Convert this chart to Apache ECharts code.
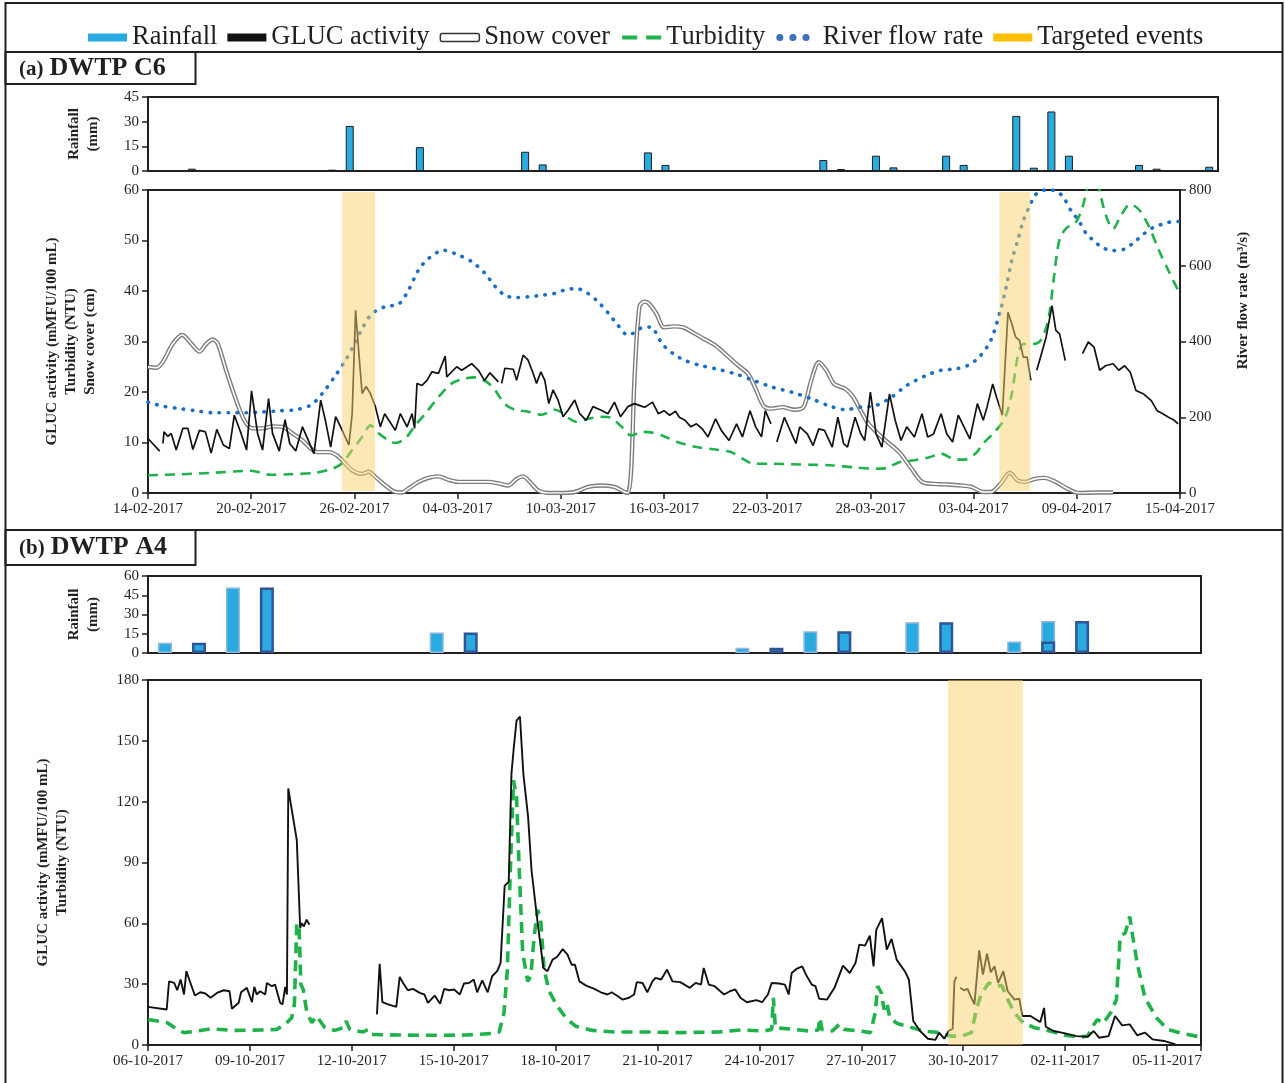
<!DOCTYPE html>
<html>
<head>
<meta charset="utf-8">
<title>GLUC activity, DWTP C6 and A4</title>
<script src="https://cdn.jsdelivr.net/npm/echarts@6/dist/echarts.min.js"></script>
<style>
  html, body { margin: 0; padding: 0; background: #fff; }
  #main { width: 1285px; height: 1083px; }
</style>
</head>
<body>
<div id="main"></div>
<script>
// tick labels (one every 6 days for C6, every 3 days for A4)
var ticksA = ['14-02-2017', '20-02-2017', '26-02-2017', '04-03-2017', '10-03-2017', '16-03-2017',
    '22-03-2017', '28-03-2017', '03-04-2017', '09-04-2017', '15-04-2017'];
var ticksB = ['06-10-2017', '09-10-2017', '12-10-2017', '15-10-2017', '18-10-2017', '21-10-2017',
    '24-10-2017', '27-10-2017', '30-10-2017', '02-11-2017', '05-11-2017'];

// daily rainfall (mm), DWTP C6, from 14-02-2017
var rainA = [0, 0, 1.4, 0, 0, 0, 0, 0, 0, 0, 0.8, 27.4, 0, 0, 0, 14.5, 0, 0, 0, 0,
    0, 11.7, 4, 0, 0, 0, 0, 0, 11.3, 3.7, 0, 0, 0, 0, 0, 0, 0, 0, 6.7, 1.2,
    0.6, 9.3, 2.2, 0, 0, 9.3, 3.7, 0, 0, 33.5, 2, 36.2, 9.3, 0, 0, 0, 3.7, 1.4, 0, 0, 2.6];

// daily rainfall (mm), DWTP A4, from 06-10-2017 (two overlapping bar series)
var rainB1 = [8, 0, 51, 0, 0, 0, 0, 0, 16, 0, 0, 0, 0, 0, 0, 0, 0, 4, 0, 17, 0, 0, 24, 0, 0, 9, 25, 0, 0, 0, 0];
var rainB2 = [0, 8, 0, 51, 0, 0, 0, 0, 0, 16, 0, 0, 0, 0, 0, 0, 0, 0, 4, 0, 17, 0, 0, 24, 0, 0, 9, 25, 0, 0, 0];

// [days since 14-02-2017, value]
var glucA = [[0,10.8],[0.68,8.3],[0.78,'-'],
    [0.87,9.8],[0.93,12.1],[1.16,11.2],[1.35,11.8],[1.64,8.5],[2.03,12.8],[2.32,12.8],[2.61,8.6],[2.99,12.4],[3.34,12.1],[3.67,7.9],
    [4.0,12.6],[4.38,9.5],[4.73,8.8],[5.02,15.4],[5.41,11.8],[5.73,8.5],[6.02,20.2],[6.37,11.8],[6.66,8.5],[7.01,18.7],[7.24,11.8],
    [7.63,8.3],[7.97,14.5],[8.24,9.8],[8.59,8.3],[8.98,13.1],[9.27,10.8],[9.65,7.8],[10.04,18.4],[10.33,14.1],[10.62,9.1],[10.91,15.1],
    [11.2,13.1],[11.68,9.5],[11.87,15.7],[12.07,36.2],[12.26,27.6],[12.45,19.7],[12.68,21.1],[12.93,19.7],[13.22,17.1],[13.51,13.1],
    [13.76,15.7],[14.0,14.4],[14.38,12.4],[14.67,15.7],[15.06,13.1],[15.35,15.7],[15.5,12.8],[15.64,21.7],[15.93,21.3],[16.22,22.3],
    [16.51,24.0],[16.89,23.7],[17.28,27.1],[17.37,23.0],[17.95,25.0],[18.24,24.3],[18.82,25.6],[19.21,24.3],[19.56,22.3],[19.88,23.8],
    [20.37,22.0],[20.46,'-'],
    [20.56,21.7],[20.75,24.7],[21.24,24.5],[21.43,22.3],[21.81,27.3],[22.1,26.3],[22.39,23.7],[22.59,21.7],[22.84,24.0],[23.07,22.3],
    [23.3,17.7],[23.55,20.4],[23.84,18.4],[24.13,15.1],[24.42,16.4],[24.81,18.4],[25.1,15.7],[25.48,14.4],[25.87,17.1],[26.35,16.4],
    [26.74,15.7],[27.12,18.0],[27.47,15.1],[27.9,17.1],[28.28,17.7],[28.76,17.1],[28.9,17.0],[29.33,18.0],[29.67,15.7],[30.0,16.3],
    [30.33,15.4],[30.67,16.2],[30.89,15.0],[31.22,14.4],[31.56,13.1],[31.89,13.7],[32.22,12.7],[32.56,11.1],[33.0,14.7],[33.33,12.4],
    [33.78,10.4],[34.22,13.7],[34.56,11.1],[35.0,16.3],[35.33,13.1],[35.67,11.1],[35.89,16.3],[36.22,13.7],[36.4,'-'],
    [36.56,10.1],[37.0,15.0],[37.33,12.4],[37.67,9.8],[37.89,13.1],[38.33,11.7],[38.67,9.4],[39.0,12.7],[39.33,12.4],[39.78,9.1],
    [40.11,15.0],[40.44,9.8],[40.67,9.1],[41.11,15.0],[41.44,11.7],[41.67,10.4],[42.0,20.0],[42.33,11.7],[42.67,9.1],[43.11,19.6],
    [43.44,14.4],[43.78,10.4],[44.11,13.1],[44.56,11.1],[45.0,15.7],[45.33,11.1],[45.67,11.7],[46.11,15.7],[46.44,11.7],[46.78,10.1],
    [47.11,15.4],[47.44,13.1],[47.78,10.7],[48.22,17.7],[48.56,14.4],[48.78,17.0],[49.11,21.6],[49.33,19.0],[49.67,15.4],[50.0,35.8],
    [50.22,33.5],[50.44,30.9],[50.67,30.2],[50.89,26.9],[51.11,26.9],[51.33,22.3],[51.5,'-'],
    [51.67,24.3],[51.89,26.9],[52.22,30.9],[52.56,37.1],[52.78,32.2],[53.0,31.5],[53.33,26.2],[53.8,'-'],
    [54.33,27.6],[54.67,29.9],[55.0,28.9],[55.33,24.3],[55.67,25.2],[56.11,25.6],[56.44,24.3],[56.78,25.2],[57.11,23.9],[57.44,20.3],
    [57.89,19.6],[58.33,18.3],[58.67,16.3],[59.0,15.7],[59.33,15.0],[59.67,14.4],[59.89,13.7]];

var snowA = [[0,25],[0.48,24.8],[0.87,26],[1.45,29.6],[1.99,31.3],[2.51,29.6],[2.99,28],[3.38,29.5],[3.76,30.4],[4.05,29.6],
    [4.54,24.3],[5.12,18.4],[5.6,14.4],[6.08,12.8],[6.66,12.8],[7.24,13.2],[7.82,13.1],[8.4,11.8],[8.98,10.4],[9.46,8.8],[9.85,8.1],
    [10.52,8.1],[11.0,7.4],[11.39,6.1],[11.87,4.5],[12.45,3.8],[12.84,4.2],[13.22,3.2],[13.8,1.5],[14.38,0.2],[14.77,0.1],[15.15,0.9],
    [15.73,2.2],[16.31,3],[16.89,3.3],[17.47,2.6],[18.05,2.2],[18.82,2.2],[19.79,2.2],[20.37,1.9],[20.95,1.5],[21.43,2.8],[21.81,3.3],
    [22.2,2.2],[22.68,0.5],[23.26,0],[24.03,0],[24.81,0.2],[25.58,1.2],[26.35,1.5],[27.12,1.2],[27.7,0.2],[27.9,0],[28.09,4.5],
    [28.28,22.3],[28.57,36.9],[28.86,37.9],[29.1,37.6],[29.56,35.5],[30.0,32.8],[30.56,33],[31.11,32.8],[31.67,31.8],[32.33,30.5],
    [33.0,29.2],[33.67,27.2],[34.33,25.2],[34.89,23.6],[35.33,20.6],[35.78,17.3],[36.22,16.7],[36.89,17],[37.56,16.5],[38.11,17],
    [38.56,22.3],[39.0,25.9],[39.44,24.3],[39.89,21.6],[40.56,20.6],[41.0,19],[41.44,16.3],[41.89,13.7],[42.78,10.7],[43.67,8.1],
    [44.33,5.1],[45.0,2.2],[45.67,1.8],[46.33,1.7],[47.22,1.5],[47.89,1.2],[48.56,0.2],[49.0,0.2],[49.56,1.8],[50.11,4],[50.56,2.5],
    [51.0,2.2],[51.56,2.8],[52.11,3],[52.78,2.2],[53.44,0.9],[54.11,0],[55.22,0.1],[56.11,0.1]];

var turbA = [[0,3.5],[1.83,3.7],[3.76,4],[5.98,4.4],[7.14,3.6],[8.2,3.7],[9.75,4],[10.71,4.8],[11.29,5.9],[11.87,8.5],[12.45,11.1],
    [12.93,13.4],[13.42,11.8],[14.0,10.4],[14.38,9.9],[14.96,10.8],[15.54,13.4],[16.12,15.7],[16.89,19],[17.66,21.7],[18.44,22.7],
    [19.02,22.9],[19.69,22],[20.17,20.4],[20.75,17.6],[21.33,16.5],[22.1,16.1],[22.88,15.5],[23.65,16.5],[24.03,16],[24.42,14.9],
    [24.9,14.1],[25.58,14.7],[26.35,15.1],[26.93,14.9],[27.51,13.2],[28.09,11.4],[28.76,12.1],[29.22,12],[29.89,11.4],[30.78,10.1],
    [31.89,9.1],[33.0,8.6],[33.89,8.1],[34.67,6.6],[35.22,5.8],[36.33,5.8],[37.44,5.7],[38.56,5.6],[39.67,5.5],[41.0,5.1],[42.33,4.8],
    [43.0,5],[43.67,6.1],[44.56,6.5],[45.44,7.1],[46.11,7.8],[46.78,6.8],[47.44,6.6],[48.11,7.8],[48.56,9.8],[49.11,11.7],[49.78,14.5],
    [50.22,19.6],[50.56,26.9],[50.89,29.5],[51.44,29.5],[51.89,30.2],[52.33,34.1],[52.67,42.7],[53.0,50.3],[53.44,52.6],[53.89,53.3],
    [54.33,56.6],[54.67,61],[54.95,62],[55.22,61],[55.67,55.2],[56.11,52.3],[56.56,54.9],[57.11,57.2],[57.67,55.9],[58.22,52.6],
    [58.78,48],[59.33,44],[59.89,40.1]];

var flowA = [[0,240],[0.87,229],[1.83,223],[2.8,217],[3.76,212],[4.73,212],[5.7,212],[6.66,214],[7.63,217],[8.59,220],[9.46,232],
    [10.14,263],[10.91,311],[11.49,351],[12.07,399],[12.45,434],[13.03,474],[13.8,492],[14.58,499],[15.15,536],[15.73,589],[16.31,619],
    [17.18,641],[18.05,628],[18.82,611],[19.59,580],[20.17,546],[20.75,522],[21.33,516],[22.1,518],[22.88,522],[23.65,527],[24.23,536],
    [24.9,540],[25.58,527],[26.16,505],[26.74,476],[27.32,443],[27.9,417],[28.38,426],[28.78,438],[29.22,438],[29.89,394],[30.56,367],
    [31.22,350],[32.11,337],[33.0,328],[34.11,315],[35.22,297],[36.33,279],[37.44,266],[38.56,249],[39.67,229],[40.56,220],[41.44,227],
    [42.33,231],[43.22,253],[44.11,284],[45.22,310],[46.11,324],[47.0,328],[47.67,337],[48.33,359],[49.0,403],[49.56,482],[49.89,543],
    [50.22,614],[50.56,666],[50.89,719],[51.22,754],[51.56,785],[51.89,798],[52.33,800],[52.78,798],[53.22,781],[53.67,745],[54.11,719],
    [54.56,684],[55.0,666],[55.44,649],[56.11,640],[56.78,644],[57.33,662],[57.89,684],[58.44,701],[59.0,710],[59.67,717],[59.89,717]];

var eventsA = [[11.28, 13.2], [49.5, 51.3]];

// [days since 06-10-2017, value]
var glucB = [[0,18.8],[0.55,17.5],[0.62,31.4],[0.77,30.6],[0.86,27],[0.96,32.3],[1.06,24.9],[1.13,36.4],[1.25,30.6],[1.38,24.4],
    [1.54,26],[1.69,25.4],[1.84,23.3],[2.03,25.7],[2.23,27],[2.4,26.5],[2.47,17.9],[2.67,20.8],[2.74,26],[2.91,28.2],[3.06,21.1],
    [3.13,28.7],[3.2,24.9],[3.3,26.5],[3.45,24.9],[3.5,30.6],[3.65,29],[3.74,29.8],[3.89,20.8],[3.96,20],[4.04,28.7],[4.09,24.9],
    [4.13,126.5],[4.38,101],[4.48,57.7],[4.52,60.1],[4.59,58.5],[4.67,61.8],[4.75,59.3],[5.5,'-'],
    [6.74,15.1],[6.82,40],[6.9,21.1],[7.07,20],[7.31,18.8],[7.41,33.6],[7.51,30.6],[7.65,27],[7.8,27.7],[8.0,25.7],[8.14,24.9],
    [8.24,20.8],[8.44,24.4],[8.6,20.3],[8.72,27.7],[8.86,27],[9.01,27.4],[9.18,24.9],[9.3,30.3],[9.45,30.6],[9.59,32.3],[9.69,26],
    [9.84,31.9],[10.0,26],[10.13,33.9],[10.28,36.4],[10.38,40.5],[10.5,78.5],[10.62,80.6],[10.7,133.8],[10.77,146.9],[10.85,160],
    [10.95,162],[11.05,133.8],[11.19,112.5],[11.29,86.3],[11.46,61.8],[11.64,38],[11.76,36.4],[11.91,42.1],[12.04,43.4],[12.21,47.3],
    [12.35,44.6],[12.47,39.6],[12.57,39.6],[12.7,31.4],[12.9,29.3],[13.14,27.7],[13.33,26],[13.53,24.9],[13.65,26],[13.8,24.4],
    [13.97,22.4],[14.16,23.3],[14.31,24.9],[14.39,31],[14.56,30.6],[14.7,26],[14.85,31.4],[14.94,33.1],[15.11,32.3],[15.28,37.2],
    [15.44,31.4],[15.67,31],[15.95,28.2],[16.12,30.6],[16.28,29.8],[16.36,38],[16.51,29.8],[16.68,29],[16.96,24.9],[17.13,26.5],
    [17.29,27.4],[17.44,23.3],[17.63,21.1],[17.91,22.1],[18.08,21.1],[18.25,24.9],[18.36,30.6],[18.58,30.3],[18.75,29.8],[18.86,24.9],
    [18.95,35.5],[19.09,37.5],[19.26,38.8],[19.37,34.7],[19.54,29.8],[19.65,29],[19.76,22.8],[19.99,22.4],[20.21,28.2],[20.46,39.1],
    [20.66,35.5],[20.83,40.5],[20.94,49.5],[21.11,49],[21.25,53.9],[21.36,38.8],[21.44,56.8],[21.61,62.6],[21.75,47],[21.89,52.3],
    [22.04,42.1],[22.28,36.4],[22.4,32.3],[22.53,11.8],[22.73,6.9],[22.96,3.1],[23.18,2.5],[23.29,6.1],[23.44,3.1],[23.57,6.9],
    [23.69,8],[23.74,31.4],[23.8,33.6],[23.85,'-'],
    [23.91,28.2],[24.02,27],[24.13,27.7],[24.21,24.4],[24.33,20],[24.47,46.7],[24.58,34.7],[24.7,45],[24.81,35.9],[24.92,38.8],
    [25.03,30.6],[25.18,36.4],[25.31,26.5],[25.51,22.4],[25.65,22.8],[25.74,14.3],[25.98,14.3],[26.27,11.3],[26.38,18.3],[26.43,9],
    [26.66,6.9],[27.0,5.7],[27.33,4.4],[27.67,4.1],[27.84,6.9],[28.0,3.6],[28.28,4.4],[28.47,14.3],[28.68,9.7],[28.9,10.2],[29.12,4.8],
    [29.35,6.1],[29.57,2.8],[29.91,2],[30.25,0.3]];

var turbB = [[0,12.6],[0.57,11],[0.86,7.7],[1.06,6.1],[1.45,6.9],[1.84,8],[2.52,7.2],[3.3,7.4],[3.79,7.7],[4.04,10.2],[4.23,13.4],
    [4.31,20],[4.38,60.1],[4.45,56.8],[4.5,29.8],[4.57,27.4],[4.67,16.7],[4.82,11],[4.96,14.3],[5.21,8.5],[5.5,7.2],[5.75,8.5],
    [5.83,11.8],[5.94,7.7],[6.33,6.4],[6.48,7.7],[6.58,5.2],[7.41,4.9],[8.39,4.8],[9.36,4.9],[10.14,5.7],[10.34,6.4],[10.48,15.9],
    [10.58,37.2],[10.66,83],[10.76,130.5],[10.85,122.4],[10.93,86.3],[11.03,45.4],[11.18,31.4],[11.27,33.9],[11.37,53.6],[11.47,66.7],
    [11.56,61.8],[11.66,37.2],[11.81,26.5],[12.05,19.2],[12.3,13.4],[12.59,9.3],[13.08,7.2],[13.77,6.4],[14.74,6.4],[15.67,6.1],
    [16.79,6.4],[17.46,7.4],[18.13,6.9],[18.36,7.7],[18.41,23.3],[18.47,8.5],[19.03,7.7],[19.48,6.9],[19.73,7.4],[19.78,13.4],
    [19.84,7.7],[20.15,6.9],[20.35,10.2],[20.49,7.7],[20.94,6.9],[21.27,6.1],[21.41,15.9],[21.48,29],[21.59,25.7],[21.67,17.5],
    [21.75,20.8],[21.84,13.4],[22.06,10.6],[22.4,9],[22.84,6.9],[23.29,6.1],[23.63,4.4],[23.96,4.4],[24.24,6.1],[24.39,17.5],
    [24.52,24.9],[24.75,30.6],[24.98,29],[25.14,29.3],[25.31,22.4],[25.51,15.9],[25.76,11],[26.1,8.5],[26.55,6.9],[27.0,4.8],
    [27.44,3.9],[27.67,4.4],[27.78,8.5],[27.95,12.6],[28.12,10.6],[28.34,15.9],[28.51,22.4],[28.62,53.6],[28.77,55.2],[28.9,63.4],
    [28.99,53.6],[29.12,40.5],[29.35,23.3],[29.69,13.4],[30.02,7.7],[30.47,5.6],[31.0,3.9]];

var eventsB = [[23.55, 25.75]];

var chart = echarts.init(document.getElementById('main'));
var serif = '"Liberation Serif", "Times New Roman", serif';
var ink = '#231f20';
var rainBlue = '#29abe2';
var green = '#1fb24b';
var flowBlue = '#1a6fc4';
var eventFill = 'rgba(247, 210, 106, 0.5)';

var axLine = {show: true, onZero: false, lineStyle: {color: ink, width: 2}};
var axTick = {show: true, inside: false, length: 6, lineStyle: {color: ink, width: 1.5}};
var axLabel = {color: ink, fontFamily: serif, fontSize: 15, margin: 9};
var axName = {color: ink, fontFamily: serif, fontSize: 15, fontWeight: 'bold', lineHeight: 19};
var gridBox = {show: true, borderColor: ink, borderWidth: 2, containLabel: false};

// days without rain get no bar at all
function bars(arr) {
    return arr.map(function (v) { return v > 0 ? v : '-'; });
}

function yAx(o) {
    return Object.assign({
        type: 'value', axisLine: axLine, axisTick: axTick, axisLabel: axLabel,
        splitLine: {show: false}, nameLocation: 'middle', nameRotate: 90, nameTextStyle: axName
    }, o);
}

function catAx(grid, n) {
    return {
        type: 'category', gridIndex: grid, data: Array.from({length: n}, function (_, i) { return i; }),
        axisLine: axLine, axisTick: {show: false}, axisLabel: {show: false}
    };
}

function dayAx(grid, max, step, labels) {
    return {
        type: 'value', gridIndex: grid, min: 0, max: max, interval: step,
        axisLine: axLine, axisTick: axTick, splitLine: {show: false},
        axisLabel: Object.assign({}, axLabel, {
            showMaxLabel: true,
            formatter: function (v) { return v % step === 0 ? (labels[v / step] || '') : ''; }
        })
    };
}

function lineS(name, x, y, data, style, extra) {
    return Object.assign({
        name: name, type: 'line', xAxisIndex: x, yAxisIndex: y, data: data,
        symbol: 'none', showSymbol: false, lineStyle: style, itemStyle: {color: style.color},
        connectNulls: false, clip: true, silent: true
    }, extra || {});
}

function eventS(x, y, spans, y0, y1) {
    return {
        name: 'Targeted events', type: 'line', xAxisIndex: x, yAxisIndex: y, data: [],
        itemStyle: {color: '#ffc000'}, z: 10, silent: true,
        markArea: {
            silent: true, z: 10,
            itemStyle: {color: eventFill},
            data: spans.map(function (s) {
                return [{xAxis: s[0], yAxis: y0}, {xAxis: s[1], yAxis: y1}];
            })
        }
    };
}

var hiddenDot = {color: 'rgba(0,0,0,0)', borderWidth: 0, opacity: 0};
var titleRich = {
    s: {fontFamily: serif, fontSize: 21, fontWeight: 'bold', padding: [3, 6, 0, 0]},
    b: {fontFamily: serif, fontSize: 26, fontWeight: 'bold'}
};

var option = {
    animation: false,
    backgroundColor: '#fff',
    textStyle: {fontFamily: serif},
    legend: {
        top: 19, left: 83, itemWidth: 39, itemHeight: 8, itemGap: 10,
        selectedMode: false,
        textStyle: {fontFamily: serif, fontSize: 26.5, color: ink},
        data: [
            {name: 'Rainfall', icon: 'rect', itemStyle: {color: rainBlue, borderWidth: 0}},
            {name: 'GLUC activity', icon: 'rect', itemStyle: {color: '#111'}},
            {name: 'Snow cover', icon: 'roundRect', itemStyle: {color: '#fff', borderColor: '#333', borderWidth: 1.5}},
            {name: 'Turbidity', itemStyle: hiddenDot, lineStyle: {color: green, width: 4, type: [15, 9]}},
            {name: 'River flow rate', itemStyle: hiddenDot, lineStyle: {color: '#3b6fc0', width: 7, type: [0.1, 13], cap: 'round', dashOffset: -14}},
            {name: 'Targeted events', icon: 'rect', itemStyle: {color: '#ffc000'}}
        ]
    },
    grid: [
        Object.assign({left: 148, right: 67, top: 97, height: 74}, gridBox),
        Object.assign({left: 148, right: 105, top: 190, height: 303}, gridBox),
        Object.assign({left: 148, right: 84, top: 576, height: 77}, gridBox),
        Object.assign({left: 148, right: 84, top: 680, height: 365}, gridBox)
    ],
    xAxis: [
        catAx(0, rainA.length),
        dayAx(1, 60, 6, ticksA),
        catAx(2, rainB1.length),
        dayAx(3, 31, 3, ticksB)
    ],
    yAxis: [
        yAx({gridIndex: 0, min: 0, max: 45, interval: 15, name: 'Rainfall\n(mm)', nameGap: 45}),
        yAx({gridIndex: 1, min: 0, max: 60, interval: 10, nameGap: 48,
            name: 'GLUC activity (mMFU/100 mL)\nTurbidity (NTU)\nSnow cover (cm)'}),
        yAx({gridIndex: 1, min: 0, max: 800, interval: 200, position: 'right', nameGap: 54,
            name: 'River flow rate (m³/s)',
            nameTextStyle: Object.assign({}, axName, {padding: [0, 0, 0, 82]})}),
        yAx({gridIndex: 2, min: 0, max: 60, interval: 15, name: 'Rainfall\n(mm)', nameGap: 45}),
        yAx({gridIndex: 3, min: 0, max: 180, interval: 30, nameGap: 76,
            name: 'GLUC activity (mMFU/100 mL)\nTurbidity (NTU)'})
    ],
    series: [
        {
            name: 'Rainfall', type: 'bar', xAxisIndex: 0, yAxisIndex: 0, data: bars(rainA), barWidth: 8, silent: true,
            itemStyle: {color: rainBlue, borderColor: '#1d1d1b', borderWidth: 1}
        },
        lineS('Snow cover', 1, 1, snowA, {color: '#7d7d7d', width: 4.4}, {smooth: 0.3}),
        lineS('Snow cover inner', 1, 1, snowA, {color: '#fff', width: 1.6}, {smooth: 0.3}),
        lineS('Turbidity', 1, 1, turbA, {color: green, width: 2.6, type: [10, 7]}, {smooth: 0.3}),
        lineS('River flow rate', 1, 2, flowA, {color: flowBlue, width: 3.6, type: [0.5, 8.5], cap: 'round'}, {smooth: 0.3}),
        lineS('GLUC activity', 1, 1, glucA, {color: '#111', width: 1.7}),
        eventS(1, 1, eventsA, 0.4, 59.6),
        {
            name: 'Rainfall', type: 'bar', xAxisIndex: 2, yAxisIndex: 3, data: bars(rainB1), barWidth: 14, silent: true,
            itemStyle: {color: rainBlue, borderColor: '#8fb6dc', borderWidth: 1.5}
        },
        {
            name: 'Rainfall', type: 'bar', xAxisIndex: 2, yAxisIndex: 3, data: bars(rainB2), barWidth: 14, barGap: '-100%', silent: true,
            itemStyle: {color: rainBlue, borderColor: '#2f5597', borderWidth: 2.5}
        },
        lineS('Turbidity', 3, 4, turbB, {color: green, width: 3.6, type: [11, 7]}),
        lineS('GLUC activity', 3, 4, glucB, {color: '#111', width: 1.9}),
        eventS(3, 4, eventsB, 0, 180)
    ],
    graphic: [
        {type: 'rect', shape: {x: 5.5, y: 3, width: 1277, height: 1095}, style: {fill: 'none', stroke: ink, lineWidth: 2}, silent: true},
        {type: 'line', shape: {x1: 5, y1: 52, x2: 1283, y2: 52}, style: {stroke: ink, lineWidth: 2}, silent: true},
        {type: 'line', shape: {x1: 5, y1: 530, x2: 1283, y2: 530}, style: {stroke: ink, lineWidth: 2}, silent: true},
        {type: 'rect', shape: {x: 5.5, y: 52, width: 190, height: 32}, style: {fill: 'none', stroke: ink, lineWidth: 2}, silent: true},
        {type: 'rect', shape: {x: 5.5, y: 530, width: 190, height: 35}, style: {fill: 'none', stroke: ink, lineWidth: 2}, silent: true},
        {
            type: 'text', left: 19, top: 55, silent: true,
            style: {text: '{s|(a)}{b|DWTP C6}', fill: ink, rich: titleRich}
        },
        {
            type: 'text', left: 19, top: 534, silent: true,
            style: {text: '{s|(b)}{b|DWTP A4}', fill: ink, rich: titleRich}
        }
    ]
};

chart.setOption(option);
</script>
</body>
</html>
